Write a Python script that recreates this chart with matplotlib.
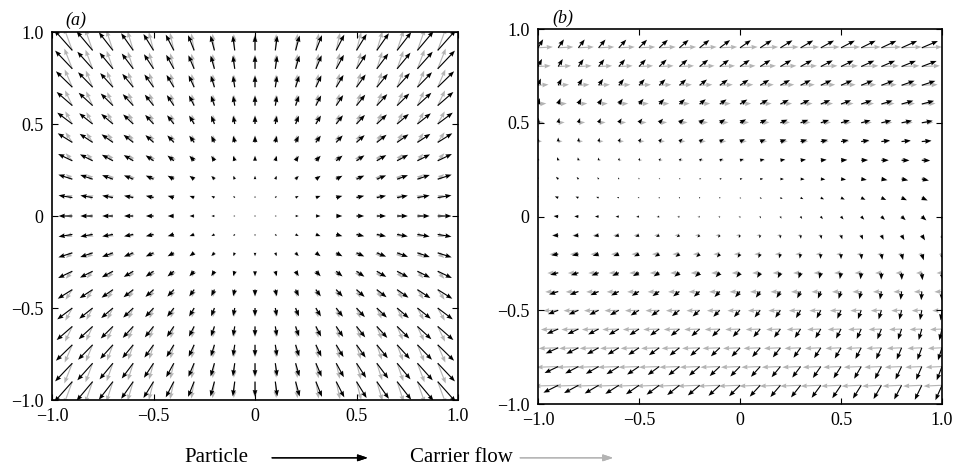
import numpy as np
import matplotlib.pyplot as plt

plt.rcParams['font.family'] = ['Liberation Serif', 'DejaVu Serif']

# grids
grid_a = np.round(np.arange(-0.9, 0.91, 0.1), 2)
grid_bx = np.round(np.arange(-1.0, 1.01, 0.1), 2)
grid_by = np.round(np.arange(-0.9, 0.91, 0.1), 2)

# panel (a): u = kx*x*(1+bx*y^2), v = ky*y*(1+by*x^2)
part_a = [0.075, 0.088, 0.4, 0.5]
flow_a = [0.035, 0.098, 0.4, 0.5]

# panel (b): comp = s + p*x + q*y + r*x*y
part_b_u = [0.0, 0.025, 0.06, 0.004]
part_b_v = [-0.009, -0.013, 0.055, 0.009]
flow_b_u = [-0.009, 0.014, 0.107, 0.0]
flow_b_v = [0.0, 0.0, 0.005, 0.0]

ticks = [-1.0, -0.5, 0, 0.5, 1.0]
tick_labels = ['\u22121.0', '\u22120.5', '0', '0.5', '1.0']

BLACK = '#000000'
GREY = '#b4b4b4'


def field_a(c, X, Y):
    kx, ky, bx, by = c
    return kx * X * (1 + bx * Y**2), ky * Y * (1 + by * X**2)


def lin(c, X, Y):
    s, p, q, r = c
    return s + p * X + q * Y + r * X * Y


def style(ax):
    ax.set_xlim(-1, 1)
    ax.set_ylim(-1, 1)
    ax.set_xticks(ticks)
    ax.set_yticks(ticks)
    ax.set_xticklabels(tick_labels)
    ax.set_yticklabels(tick_labels)
    ax.tick_params(direction='in', top=True, right=True, length=4,
                   labelsize=13, pad=6)
    for s in ax.spines.values():
        s.set_linewidth(1.2)


qkw = dict(angles='xy', scale_units='xy', scale=1, pivot='tail',
           width=0.0028, headwidth=4.2, headlength=5.5, headaxislength=5)

fig = plt.figure(figsize=(9.58, 4.72), dpi=100)
ax1 = fig.add_axes([0.0543, 0.1525, 0.4238, 0.7797])
ax2 = fig.add_axes([0.5616, 0.144, 0.4217, 0.7945])

X, Y = np.meshgrid(grid_a, grid_a)
u, v = field_a(flow_a, X, Y)
ax1.quiver(X, Y, u, v, color=GREY, **qkw)
u, v = field_a(part_a, X, Y)
ax1.quiver(X, Y, u, v, color=BLACK, **qkw)

X, Y = np.meshgrid(grid_bx, grid_by)
ax2.quiver(X, Y, lin(flow_b_u, X, Y), lin(flow_b_v, X, Y), color=GREY, **qkw)
ax2.quiver(X, Y, lin(part_b_u, X, Y), lin(part_b_v, X, Y), color=BLACK, **qkw)

for ax in (ax1, ax2):
    style(ax)

fig.text(0.068, 0.975, '(a)', style='italic', fontsize=13, va='top')
fig.text(0.577, 0.98, '(b)', style='italic', fontsize=13, va='top')

# legend
fig.text(0.259, 0.03, 'Particle', fontsize=15, ha='right', va='center')
fig.text(0.428, 0.03, 'Carrier flow', fontsize=15, ha='left', va='center')
ak = dict(arrowstyle='-|>,head_length=0.6,head_width=0.2', lw=0.9,
          shrinkA=0, shrinkB=0)
fig.add_artist(plt.annotate('', xy=(0.384, 0.03), xytext=(0.284, 0.03),
                            xycoords='figure fraction',
                            arrowprops=dict(color=BLACK, **ak)))
fig.add_artist(plt.annotate('', xy=(0.64, 0.03), xytext=(0.543, 0.03),
                            xycoords='figure fraction',
                            arrowprops=dict(color=GREY, **ak)))

fig.savefig('out.png', dpi=100)
